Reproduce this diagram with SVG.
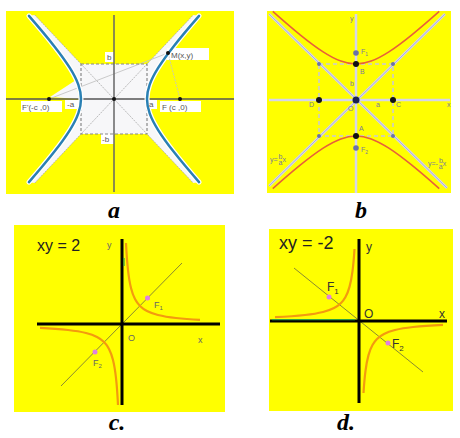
<svg xmlns="http://www.w3.org/2000/svg" width="460" height="438" viewBox="0 0 460 438">
<style>
.cap{font-family:"Liberation Serif",serif;font-weight:bold;font-style:italic;font-size:24px;fill:#000;text-anchor:middle}
.la{font-family:"Liberation Sans",sans-serif;font-size:8px;fill:#555}
.lb{font-family:"Liberation Sans",sans-serif;font-size:7px;fill:#7a7a9a}
.lc{font-family:"Liberation Sans",sans-serif;font-size:9px;fill:#666}
.ld{font-family:"Liberation Sans",sans-serif;font-size:12px;fill:#333}
.eq{font-family:"Liberation Sans",sans-serif;fill:#222}
.ax{stroke:#000;stroke-width:3;fill:none}
.orc{stroke:#f39a0f;stroke-width:2.2;fill:none}
.diag{stroke:#8a8a30;stroke-width:1;fill:none}
.foc{fill:#e080e0}
</style>
<rect width="460" height="438" fill="#fff"/>

<!-- Panel a -->
<g id="panel-a">
<rect x="6" y="11" width="228" height="183" fill="#ffff00"/>
<path fill="#f7f7f9" d="M28.94,15.85 Q44.42,33.66 54.25,46.17 Q64.08,58.68 69.87,67.92 Q75.65,77.15 78.32,84.62 Q81,92.09 81,99 Q81,105.91 78.32,113.38 Q75.65,120.85 69.87,130.08 Q64.08,139.32 54.25,151.83 Q44.42,164.34 28.94,182.15 L34.8,183 L81,134 L147,134 L193.2,183 L199.06,182.15 Q183.58,164.34 173.75,151.83 Q163.92,139.32 158.13,130.08 Q152.35,120.85 149.68,113.38 Q147,105.91 147,99 Q147,92.09 149.68,84.62 Q152.35,77.15 158.13,67.92 Q163.92,58.68 173.75,46.17 Q183.58,33.66 199.06,15.85 L193.2,15 L147,64 L81,64 L34.8,15 Z"/>
<polygon points="50,97 76,80 79,99" fill="#f7f7f9"/>
<g fill="#fff">
<rect x="21" y="101" width="41" height="11"/>
<rect x="160" y="101" width="41" height="11"/>
<rect x="167" y="48" width="42" height="12"/>
<rect x="105" y="52" width="9" height="10"/>
<rect x="101" y="134" width="13" height="10"/>
<rect x="65" y="100" width="14" height="9"/>
<rect x="148" y="100" width="9" height="9"/>
</g>
<g stroke="#aaa" stroke-width="0.8" stroke-dasharray="2,1" fill="none">
<line x1="34.8" y1="15" x2="193.2" y2="183"/>
<line x1="34.8" y1="183" x2="193.2" y2="15"/>
</g>
<g stroke="#c4c4c4" stroke-width="0.9" fill="none">
<line x1="49" y1="99" x2="168" y2="53"/>
<line x1="168" y1="53" x2="180" y2="99" stroke-dasharray="2,1"/>
</g>
<rect x="81" y="64" width="66" height="70" fill="none" stroke="#888" stroke-width="1.2" stroke-dasharray="3,2"/>
<line x1="6" y1="99" x2="234" y2="99" stroke="#555" stroke-width="1.5"/>
<line x1="114" y1="15" x2="114" y2="192" stroke="#666" stroke-width="1.5"/>
<g fill="none" stroke-linecap="round">
<path stroke="#fff" stroke-width="5" d="M28.94,15.85 Q44.42,33.66 54.25,46.17 Q64.08,58.68 69.87,67.92 Q75.65,77.15 78.32,84.62 Q81,92.09 81,99 Q81,105.91 78.32,113.38 Q75.65,120.85 69.87,130.08 Q64.08,139.32 54.25,151.83 Q44.42,164.34 28.94,182.15 M199.06,182.15 Q183.58,164.34 173.75,151.83 Q163.92,139.32 158.13,130.08 Q152.35,120.85 149.68,113.38 Q147,105.91 147,99 Q147,92.09 149.68,84.62 Q152.35,77.15 158.13,67.92 Q163.92,58.68 173.75,46.17 Q183.58,33.66 199.06,15.85"/>
<path stroke="#2a80b4" stroke-width="2.5" d="M28.94,15.85 Q44.42,33.66 54.25,46.17 Q64.08,58.68 69.87,67.92 Q75.65,77.15 78.32,84.62 Q81,92.09 81,99 Q81,105.91 78.32,113.38 Q75.65,120.85 69.87,130.08 Q64.08,139.32 54.25,151.83 Q44.42,164.34 28.94,182.15 M199.06,182.15 Q183.58,164.34 173.75,151.83 Q163.92,139.32 158.13,130.08 Q152.35,120.85 149.68,113.38 Q147,105.91 147,99 Q147,92.09 149.68,84.62 Q152.35,77.15 158.13,67.92 Q163.92,58.68 173.75,46.17 Q183.58,33.66 199.06,15.85"/>
</g>
<g fill="#111">
<circle cx="49" cy="99" r="2"/>
<circle cx="180" cy="99" r="2"/>
<circle cx="168" cy="53" r="2"/>
<circle cx="114" cy="99" r="2"/>
</g>
<text class="la" x="22" y="110">F'(-c ,0)</text>
<text class="la" x="162" y="110">F (c ,0)</text>
<text class="la" x="171" y="58">M(x,y)</text>
<text class="la" x="107" y="60">b</text>
<text class="la" x="102" y="142">-b</text>
<text class="la" x="67" y="107">-a</text>
<text class="la" x="149" y="107">a</text>
<text class="cap" x="114" y="218">a</text>
</g>

<!-- Panel b -->
<g id="panel-b">
<rect x="267" y="11" width="184" height="182" fill="#ffff00"/>
<g stroke="#d6d6ea" stroke-width="2.5" fill="none">
<line x1="269" y1="100" x2="450" y2="100"/>
<line x1="356" y1="14" x2="356" y2="193"/>
<line x1="269" y1="186" x2="445" y2="14"/>
<line x1="269" y1="14" x2="447" y2="188"/>
</g>
<g stroke="#9a9ac0" stroke-width="0.6" fill="none">
<line x1="269" y1="186" x2="445" y2="14"/>
<line x1="269" y1="14" x2="447" y2="188"/>
</g>
<rect x="319" y="64" width="74" height="72" fill="none" stroke="#c8c8dc" stroke-width="1.5" stroke-dasharray="4,3"/>
<g fill="none" stroke="#e8603a" stroke-width="1.6">
<path d="M272.76,11.37 Q288.55,25.40 300.15,34.81 Q313.37,45.54 323.14,51.85 Q332.90,58.16 340.80,61.08 Q348.70,64 356,64 Q363.30,64 371.20,61.08 Q379.10,58.16 388.86,51.85 Q398.63,45.54 411.85,34.81 Q423.45,25.40 439.24,11.37"/>
<path d="M272.76,188.63 Q288.55,174.60 300.15,165.19 Q313.37,154.46 323.14,148.15 Q332.90,141.84 340.80,138.92 Q348.70,136 356,136 Q363.30,136 371.20,138.92 Q379.10,141.84 388.86,148.15 Q398.63,154.46 411.85,165.19 Q423.45,174.60 439.24,188.63"/>
</g>
<g fill="#111">
<circle cx="356" cy="64" r="3"/>
<circle cx="356" cy="136" r="3"/>
<circle cx="319" cy="100" r="3"/>
<circle cx="393" cy="100" r="3"/>
</g>
<circle cx="356" cy="100" r="3.5" fill="#1a2050"/>
<g fill="#6a72a8">
<circle cx="356" cy="53" r="2.8"/>
<circle cx="356" cy="148" r="2.8"/>
<circle cx="319" cy="64" r="2"/>
<circle cx="393" cy="64" r="2"/>
<circle cx="319" cy="136" r="2"/>
<circle cx="393" cy="136" r="2"/>
</g>
<text class="lb" x="350" y="21">y</text>
<text class="lb" x="447" y="107">x</text>
<text class="lb" x="361" y="54">F<tspan font-size="5" dy="2">1</tspan></text>
<text class="lb" x="361" y="152">F<tspan font-size="5" dy="2">2</tspan></text>
<text class="lb" x="360" y="74">B</text>
<text class="lb" x="350" y="86">b</text>
<text class="lb" x="309" y="107">D</text>
<text class="lb" x="376" y="107">a</text>
<text class="lb" x="396" y="107">C</text>
<text class="lb" x="348" y="111">O</text>
<text class="lb" x="359" y="131">A</text>
<text class="lb" x="270" y="162" font-size="6">y=<tspan dx="1" dy="-3">b</tspan><tspan dx="-4" dy="6">a</tspan><tspan dy="-3">x</tspan></text>
<text class="lb" x="428" y="166" font-size="6">y=-<tspan dx="1" dy="-3">b</tspan><tspan dx="-4" dy="6">a</tspan><tspan dy="-3">x</tspan></text>
<text class="cap" x="361" y="218">b</text>
</g>

<!-- Panel c -->
<g id="panel-c">
<rect x="14" y="225" width="211" height="187" fill="#ffff00"/>
<text class="eq" x="37" y="251" font-size="16">xy = 2</text>
<line class="diag" x1="61" y1="386" x2="182" y2="263"/>
<line class="ax" x1="122" y1="239" x2="122" y2="405"/>
<line class="ax" x1="37" y1="324" x2="220" y2="324"/>
<line x1="124" y1="258" x2="124" y2="266" stroke="#30a040" stroke-width="1.2"/>
<path class="orc" d="M126,243 Q126.8,259.2 128,270 Q129.2,280.8 131,288 Q132.636,294.545 135,299.08 Q137.097,303.097 140,306 Q142.930,308.930 147,311.04 Q151.508,313.377 158,315 Q165.2,316.8 176,318 Q185.818,319.091 200,319.846"/>
<path class="orc" d="M118,405 Q117.2,388.8 116,378 Q114.8,367.2 113,360 Q111.364,353.455 109,348.92 Q106.903,344.903 104,342 Q101.070,339.070 97,336.96 Q92.492,334.623 86,333 Q78.8,331.2 68,330 Q56.88,328.765 40,327.95"/>
<circle class="foc" cx="147.5" cy="298" r="2.5"/>
<circle class="foc" cx="95" cy="352" r="2.5"/>
<text class="lc" x="154" y="308">F<tspan font-size="6" dy="2">1</tspan></text>
<text class="lc" x="93" y="366">F<tspan font-size="6" dy="2">2</tspan></text>
<text class="lc" x="128" y="341" font-size="11">O</text>
<text class="lc" x="198" y="343">x</text>
<text class="lc" x="107" y="248">y</text>
<text class="cap" x="117" y="430">c.</text>
</g>

<!-- Panel d -->
<g id="panel-d">
<rect x="269" y="229" width="184" height="182" fill="#ffff00"/>
<text class="eq" x="279" y="249" font-size="18">xy = -2</text>
<line class="diag" x1="294" y1="268" x2="423" y2="372"/>
<line class="ax" x1="359" y1="239" x2="359" y2="403"/>
<line class="ax" x1="270" y1="321" x2="447" y2="321"/>
<line x1="272" y1="319.6" x2="355" y2="319.6" stroke="#30a040" stroke-width="1.2"/>
<path class="orc" d="M354.5,249 Q353.682,262.091 352.5,271.154 Q351.281,280.5 349.5,286.895 Q347.848,292.826 345.5,297 Q343.571,300.429 341,303 Q338.070,305.930 334,308.04 Q329.492,310.377 323,312 Q315.8,313.8 305,315 Q293.261,316.304 275,317.143"/>
<path class="orc" d="M363.5,393 Q364.318,379.909 365.5,370.846 Q366.719,361.5 368.5,355.105 Q370.152,349.174 372.5,345 Q374.429,341.571 377,339 Q379.930,336.070 384,333.96 Q388.508,331.623 395,330 Q402.2,328.2 413,327 Q424.739,325.696 443,324.857"/>
<circle class="foc" cx="329" cy="297" r="2.5"/>
<circle class="foc" cx="388" cy="343" r="2.5"/>
<text class="ld" x="327" y="291">F<tspan font-size="8" dy="3">1</tspan></text>
<text class="ld" x="392" y="348">F<tspan font-size="8" dy="3">2</tspan></text>
<text class="ld" x="364" y="318">O</text>
<text class="ld" x="439" y="318">x</text>
<text class="ld" x="366" y="251">y</text>
<text class="cap" x="346" y="430">d.</text>
</g>
</svg>
